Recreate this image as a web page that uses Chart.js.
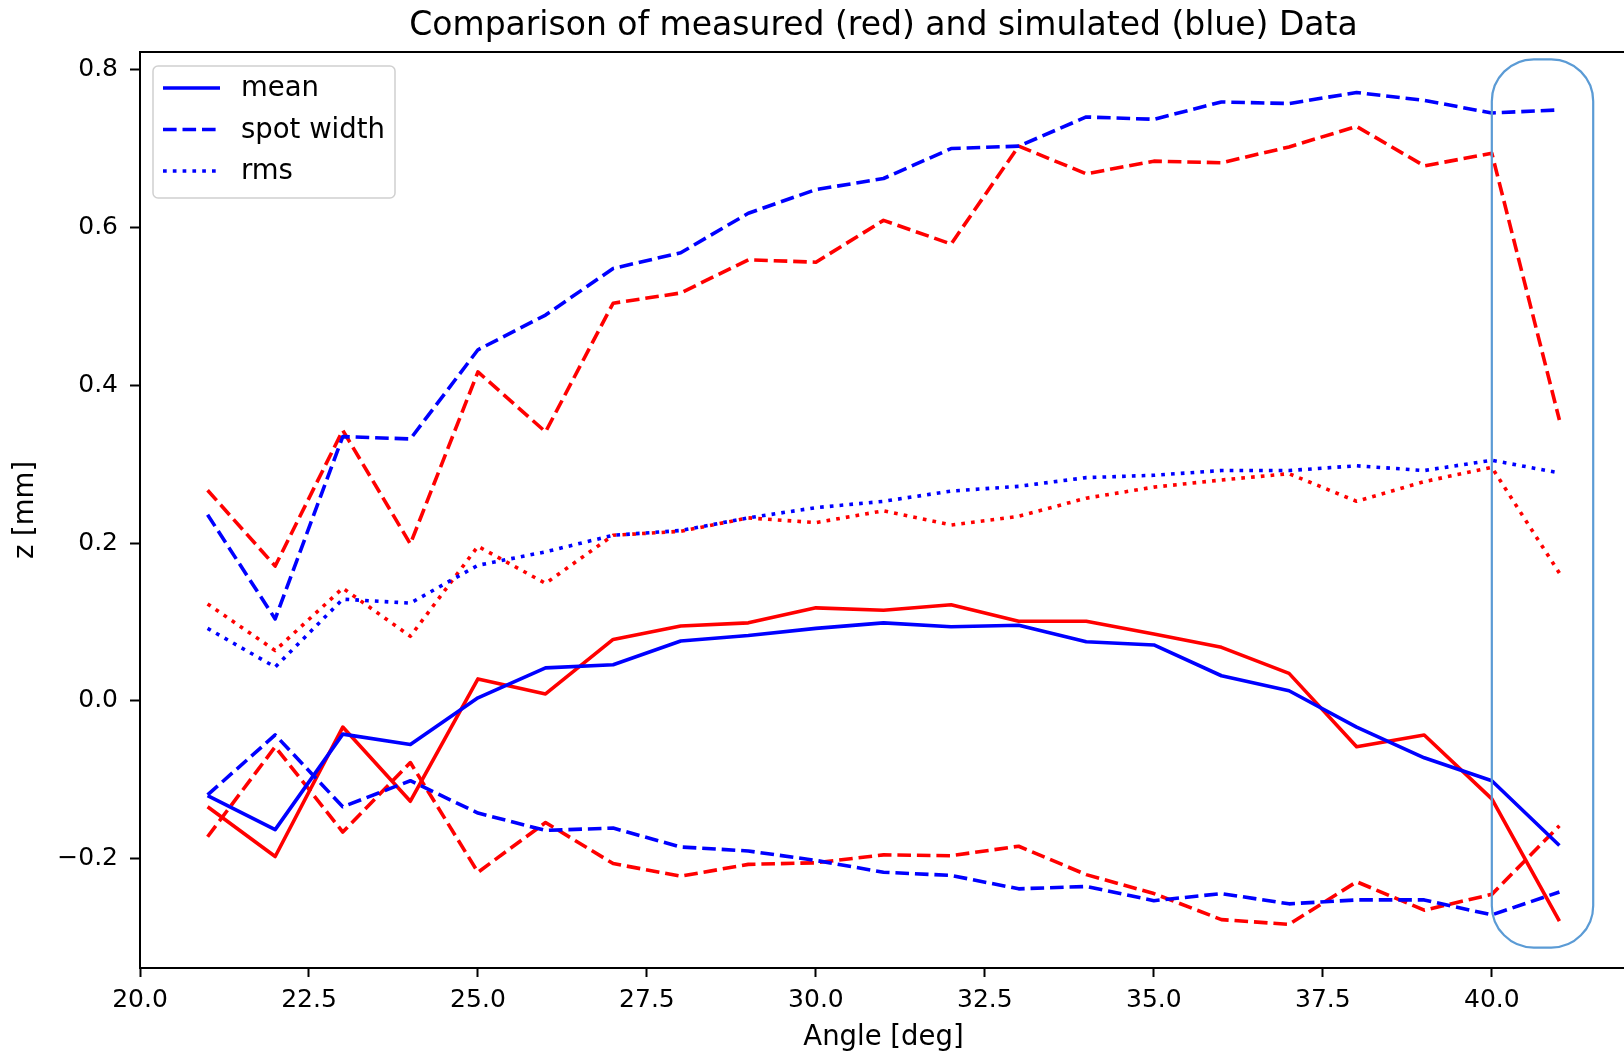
<!DOCTYPE html>
<html>
<head>
<meta charset="utf-8">
<title>Comparison of measured and simulated data</title>
<script src="https://cdn.jsdelivr.net/npm/chart.js@4.4.1/dist/chart.umd.min.js"></script>
<style>
    html, body { margin: 0; padding: 0; background: #fff; overflow: hidden; }
    #wrap { width: 1628px; height: 1055px; }
    canvas { display: block; }
</style>
</head>
<body>
<div id="wrap"><canvas id="chart" width="1628" height="1055"></canvas></div>
<script>
const angles = [21, 22, 23, 24, 25, 26, 27, 28, 29, 30, 31, 32, 33, 34, 35, 36, 37, 38, 39, 40, 41];

// simulated (blue)
const simMean = [-0.120, -0.163, -0.042, -0.055, 0.004, 0.042, 0.046, 0.076, 0.083, 0.092, 0.099, 0.094, 0.096, 0.075, 0.071, 0.032, 0.013, -0.033, -0.072, -0.101, -0.183];
const simSpotUpper = [0.236, 0.104, 0.335, 0.332, 0.445, 0.489, 0.548, 0.568, 0.618, 0.648, 0.662, 0.700, 0.703, 0.740, 0.737, 0.759, 0.757, 0.771, 0.761, 0.745, 0.749];
const simSpotLower = [-0.119, -0.043, -0.134, -0.101, -0.142, -0.164, -0.161, -0.185, -0.190, -0.202, -0.217, -0.221, -0.238, -0.235, -0.253, -0.244, -0.257, -0.252, -0.252, -0.271, -0.242];
const simRms = [0.092, 0.043, 0.129, 0.124, 0.172, 0.189, 0.210, 0.216, 0.232, 0.245, 0.253, 0.266, 0.272, 0.283, 0.286, 0.292, 0.292, 0.298, 0.292, 0.305, 0.289];

// measured (red)
const measMean = [-0.134, -0.197, -0.033, -0.127, 0.028, 0.009, 0.078, 0.095, 0.099, 0.118, 0.115, 0.122, 0.101, 0.101, 0.085, 0.068, 0.035, -0.058, -0.043, -0.124, -0.279];
const measSpotUpper = [0.267, 0.171, 0.343, 0.199, 0.417, 0.341, 0.504, 0.517, 0.559, 0.556, 0.609, 0.579, 0.703, 0.668, 0.684, 0.682, 0.702, 0.728, 0.678, 0.694, 0.356];
const measSpotLower = [-0.172, -0.058, -0.166, -0.078, -0.217, -0.154, -0.206, -0.222, -0.207, -0.205, -0.195, -0.196, -0.184, -0.220, -0.244, -0.277, -0.283, -0.229, -0.265, -0.245, -0.158];
const measRms = [0.123, 0.064, 0.143, 0.082, 0.196, 0.149, 0.210, 0.215, 0.232, 0.226, 0.241, 0.223, 0.234, 0.257, 0.271, 0.280, 0.288, 0.253, 0.278, 0.296, 0.162];

const xTicks = [20, 22.5, 25, 27.5, 30, 32.5, 35, 37.5, 40];
const yTicks = [-0.2, 0, 0.2, 0.4, 0.6, 0.8];
const legendLabels = ['mean', 'spot width', 'rms'];

const chartTitle = 'Comparison of measured (red) and simulated (blue) Data';
const FONT = '"DejaVu Sans", "Liberation Sans", sans-serif';

const DASHED = [13.6, 5.9];
const DOTTED = [3.7, 6.1];
const LW = 3.6;

function toPoints(values) {
    return angles.map((a, i) => ({ x: a, y: values[i] }));
}

function series(label, values, color, dash) {
    return {
        label,
        data: toPoints(values),
        borderColor: color,
        backgroundColor: color,
        borderWidth: LW,
        borderDash: dash,
        borderJoinStyle: 'round',
        pointRadius: 0,
        tension: 0,
        fill: false
    };
}

const datasets = [
    series('mean', simMean, '#0000ff', []),
    series('spot width', simSpotUpper, '#0000ff', DASHED),
    series('rms', simRms, '#0000ff', DOTTED),
    series('spot width lower', simSpotLower, '#0000ff', DASHED),
    series('measured mean', measMean, '#ff0000', []),
    series('measured spot width', measSpotUpper, '#ff0000', DASHED),
    series('measured spot width lower', measSpotLower, '#ff0000', DASHED),
    series('measured rms', measRms, '#ff0000', DOTTED)
];

function fmtMinus(v, digits) {
    const s = Math.abs(v).toFixed(digits);
    return v < 0 ? '\u2212' + s : s;
}

// titulo centrado sobre a area do grafico (como no matplotlib)
const titlePlugin = {
    id: 'axTitle',
    afterDraw(chart) {
        const { ctx, chartArea } = chart;
        ctx.save();
        ctx.font = `33px ${FONT}`;
        ctx.fillStyle = '#000';
        ctx.textAlign = 'center';
        ctx.textBaseline = 'alphabetic';
        ctx.fillText(chartTitle, (chartArea.left + chartArea.right) / 2, 35);
        ctx.restore();
    }
};

const framePlugin = {
    id: 'frame',
    afterDatasetsDraw(chart) {
        const { ctx, chartArea: a } = chart;
        ctx.save();
        ctx.strokeStyle = '#000';
        ctx.lineWidth = 2;
        ctx.strokeRect(a.left, a.top, a.right - a.left, a.bottom - a.top);
        ctx.restore();
    }
};

// contorno azul em volta dos ultimos pontos
const highlightPlugin = {
    id: 'highlight',
    afterDraw(chart) {
        const { ctx, scales } = chart;
        const x0 = scales.x.getPixelForValue(40.0);
        const x1 = scales.x.getPixelForValue(41.5);
        const y0 = scales.y.getPixelForValue(0.813);
        const y1 = scales.y.getPixelForValue(-0.3125);
        ctx.save();
        ctx.strokeStyle = '#5b9bd5';
        ctx.lineWidth = 2.2;
        ctx.beginPath();
        ctx.roundRect(x0, y0, x1 - x0, y1 - y0, 42);
        ctx.stroke();
        ctx.restore();
    }
};

const legendPlugin = {
    id: 'mplLegend',
    afterDraw(chart) {
        const { ctx, chartArea: a } = chart;
        const bx = a.left + 13;
        const by = a.top + 14;
        ctx.save();
        ctx.beginPath();
        ctx.roundRect(bx, by, 242, 132, 5);
        ctx.fillStyle = 'rgba(255,255,255,0.8)';
        ctx.fill();
        ctx.strokeStyle = '#d0d0d0';
        ctx.lineWidth = 1.5;
        ctx.stroke();

        ctx.font = `27.5px ${FONT}`;
        ctx.textAlign = 'left';
        ctx.textBaseline = 'middle';
        legendLabels.forEach((label, i) => {
            const ds = datasets[i];
            const y = by + 22 + i * 41.5;
            ctx.strokeStyle = ds.borderColor;
            ctx.lineWidth = LW;
            ctx.setLineDash(ds.borderDash);
            ctx.beginPath();
            ctx.moveTo(bx + 10, y);
            ctx.lineTo(bx + 67, y);
            ctx.stroke();
            ctx.setLineDash([]);
            ctx.fillStyle = '#000';
            ctx.fillText(label, bx + 88, y + 1);
        });
        ctx.restore();
    }
};

new Chart(document.getElementById('chart').getContext('2d'), {
    type: 'line',
    data: { datasets },
    options: {
        responsive: false,
        animation: false,
        layout: { padding: { top: 52, right: 1, left: 0, bottom: 0 } },
        plugins: {
            legend: { display: false },
            title: { display: false },
            tooltip: { enabled: false }
        },
        scales: {
            x: {
                type: 'linear',
                min: 20,
                max: 42,
                afterBuildTicks: scale => { scale.ticks = xTicks.map(v => ({ value: v })); },
                afterFit: scale => { scale.height = 87; },
                ticks: {
                    callback: v => fmtMinus(v, 1),
                    font: { family: FONT, size: 25 },
                    color: '#000',
                    padding: 8,
                    maxRotation: 0
                },
                grid: { drawOnChartArea: false, drawTicks: true, tickLength: 9, tickColor: '#000', tickWidth: 2 },
                border: { display: true, color: '#000', width: 2 },
                title: {
                    display: true,
                    text: 'Angle [deg]',
                    color: '#000',
                    font: { family: FONT, size: 27.5 },
                    padding: { top: 0, bottom: 1 }
                }
            },
            y: {
                type: 'linear',
                min: -0.3383,
                max: 0.8223,
                afterBuildTicks: scale => { scale.ticks = yTicks.map(v => ({ value: v })); },
                afterFit: scale => { scale.width = 140; },
                ticks: {
                    callback: v => fmtMinus(v, 1),
                    font: { family: FONT, size: 25 },
                    color: '#000',
                    padding: 12
                },
                grid: { drawOnChartArea: false, drawTicks: true, tickLength: 10, tickColor: '#000', tickWidth: 2 },
                border: { display: true, color: '#000', width: 2 },
                title: {
                    display: true,
                    text: 'z [mm]',
                    color: '#000',
                    font: { family: FONT, size: 27.5 },
                    padding: { top: 9, bottom: 0 }
                }
            }
        }
    },
    plugins: [framePlugin, highlightPlugin, legendPlugin, titlePlugin]
});
</script>
</body>
</html>
